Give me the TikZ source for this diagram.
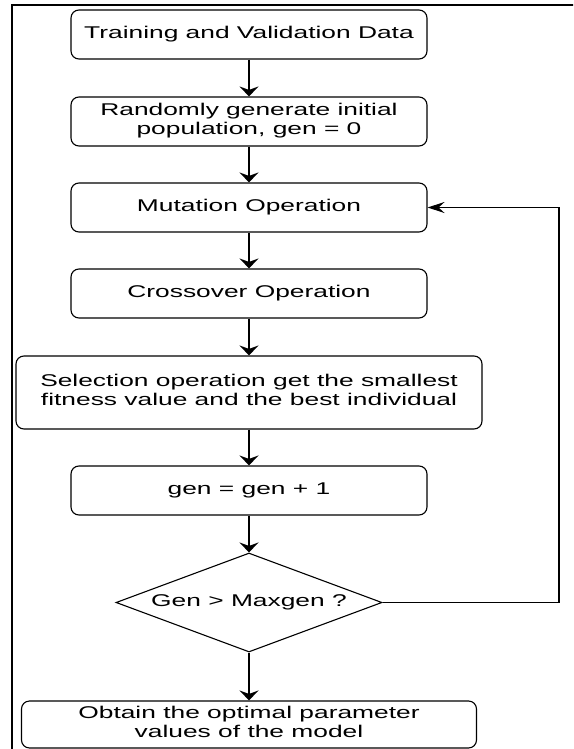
\documentclass[tikz,border=0pt]{standalone}
\usepackage{fontspec}
\setmainfont{Liberation Sans}
\usetikzlibrary{shapes.geometric,arrows.meta}
\newcommand{\wtext}[1]{\scalebox{1.55}[1]{\begin{tabular}{@{}c@{}}#1\end{tabular}}}
\begin{document}
\begin{tikzpicture}[x=1pt,y=-1pt,
  box/.style={draw, rounded corners=8pt, line width=1.1pt, minimum width=356pt, minimum height=49pt, inner sep=0pt, font=\fontsize{17}{19}\selectfont},
  txt/.style={inner sep=0pt, font=\fontsize{17}{19}\selectfont},
  dia/.style={draw, diamond, line width=1.1pt, minimum width=266pt, minimum height=99pt, inner sep=0pt},
  arr/.style={line width=1.8pt, -{Stealth[length=10pt, width=19pt, inset=3.5pt]}},
  fb/.style={line width=1.2pt, -{Stealth[length=17pt, width=11pt, inset=6pt]}}]
\useasboundingbox (0,0) rectangle (573,749);
\clip (0,0) rectangle (573,749);
\draw[line width=2pt] (12,760) -- (12,5) -- (580,5);
\node[box] (b1) at (249,34.5) {\wtext{Training and Validation Data}};
\node[box] (b2) at (249,121.5) {\wtext{Randomly generate initial\\population, gen = 0}};
\node[box] (b3) at (249,207.5) {\wtext{Mutation Operation}};
\node[box] (b4) at (249,293.5) {\wtext{Crossover Operation}};
\node[box, minimum width=466pt, minimum height=73pt] (b5) at (249,392.5) {\wtext{Selection operation get the smallest\\fitness value and the best individual}};
\node[box] (b6) at (249,490.5) {\wtext{gen = gen + 1}};
\node[dia] (d) at (249,602.5) {};
\node[txt] (dt) at (249,602.5) {\wtext{Gen > Maxgen ?}};
\node[box, minimum width=455pt, minimum height=47pt] (b7) at (249,724.5) {\wtext{Obtain the optimal parameter\\values of the model}};
\coordinate (c1) at (559,602.5);
\coordinate (c2) at (559,207.5);
\draw[arr] (b1) -- (b2);
\draw[arr] (b2) -- (b3);
\draw[arr] (b3) -- (b4);
\draw[arr] (b4) -- (b5);
\draw[arr] (b5) -- (b6);
\draw[arr] (b6) -- (d);
\draw[arr] (d) -- (b7);
\draw[fb] (d.east) -- (c1) -- (c2) -- (b3.east);
\end{tikzpicture}
\end{document}
